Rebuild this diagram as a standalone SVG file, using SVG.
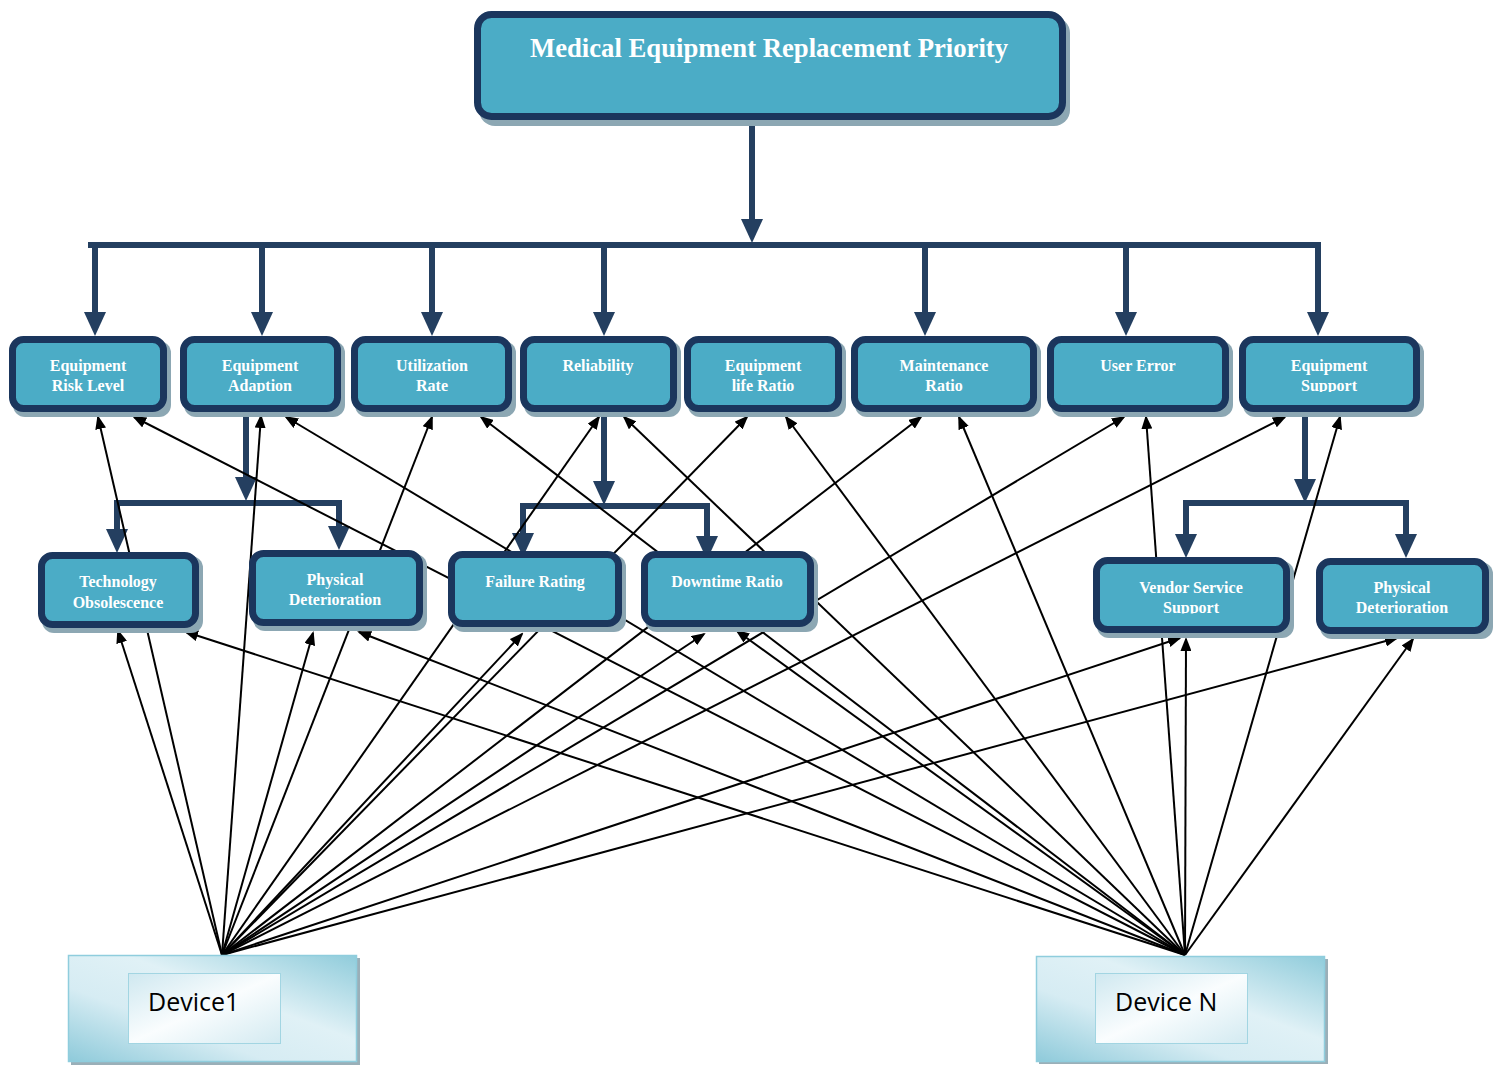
<svg xmlns="http://www.w3.org/2000/svg" width="1499" height="1065" viewBox="0 0 1499 1065">
  <style>
    .shadow { fill: #8CA7B3; }
    .box { fill: #4BACC6; stroke: #1B365D; stroke-width: 7; }
    .lbl { font-family: "Liberation Serif", "Times New Roman", serif; font-weight: bold; font-size: 16px; fill: #FFFFFF; text-anchor: middle; }
    .title { font-size: 26.7px; }
    .trunk { stroke: #243F60; stroke-width: 6; fill: none; stroke-linejoin: miter; }
    .trunk.arr { marker-end: url(#bigArrow); }
    .link { stroke: #000000; stroke-width: 2; fill: none; marker-end: url(#smallArrow); }
    .devShadow { fill: #9AAFB8; }
    .devOuter { fill: url(#devOuterGrad); stroke: #8FCDDD; stroke-width: 1.5; }
    .devInner { fill: url(#devInnerGrad); stroke: #A2D5E2; stroke-width: 1; }
    .devLbl { font-family: "Open Sans", "Liberation Sans", sans-serif; font-size: 25px; fill: #000000; }
  </style>
  <defs>
    <marker id="bigArrow" markerUnits="userSpaceOnUse" viewBox="0 0 24 22" markerWidth="24" markerHeight="22" refX="16" refY="11" orient="auto">
      <path d="M0,0 L24,11 L0,22 z" fill="#243F60"/>
    </marker>
    <marker id="smallArrow" markerUnits="userSpaceOnUse" viewBox="0 0 14 11" markerWidth="14" markerHeight="11" refX="12" refY="5.5" orient="auto">
      <path d="M0,0 L14,5.5 L0,11 z" fill="#000000"/>
    </marker>
    <linearGradient id="devOuterGrad" x1="0" y1="1" x2="1" y2="0">
      <stop offset="0" stop-color="#8ECADA"/>
      <stop offset="0.35" stop-color="#D6ECF3"/>
      <stop offset="0.6" stop-color="#E0F1F6"/>
      <stop offset="1" stop-color="#90CCDB"/>
    </linearGradient>
    <linearGradient id="devInnerGrad" x1="0" y1="0" x2="1" y2="1">
      <stop offset="0" stop-color="#CFE8F0"/>
      <stop offset="0.5" stop-color="#FAFDFE"/>
      <stop offset="1" stop-color="#D3EAF1"/>
    </linearGradient>
    <clipPath id="cutRow1"><rect x="0" y="0" width="1499" height="392"/></clipPath>
    <clipPath id="cutRow2"><rect x="0" y="0" width="1499" height="613.5"/></clipPath>
  </defs>

  <rect width="1499" height="1065" fill="#FFFFFF"/>

  <!-- hierarchy trunks (thick navy) -->
  <g id="trunks">
    <path class="trunk arr" d="M752,120 V235"/>
    <path class="trunk" d="M88,245 H1321"/>
    <path class="trunk arr" d="M95,245 V328"/>
    <path class="trunk arr" d="M262,245 V328"/>
    <path class="trunk arr" d="M432,245 V328"/>
    <path class="trunk arr" d="M604,245 V328"/>
    <path class="trunk arr" d="M925,245 V328"/>
    <path class="trunk arr" d="M1126,245 V328"/>
    <path class="trunk arr" d="M1318,245 V328"/>

    <path class="trunk arr" d="M246,412 V493"/>
    <path class="trunk arr" d="M246,503 H117 V545"/>
    <path class="trunk arr" d="M246,503 H339 V542"/>

    <path class="trunk arr" d="M604,412 V497"/>
    <path class="trunk arr" d="M604,506 H523 V549"/>
    <path class="trunk arr" d="M604,506 H707 V552"/>

    <path class="trunk arr" d="M1305,412 V495"/>
    <path class="trunk arr" d="M1305,503 H1186 V550"/>
    <path class="trunk arr" d="M1305,503 H1406 V550"/>
  </g>

  <!-- device-to-criterion links -->
  <g id="connectors">
    <!-- from Device1 -->
    <path class="link" d="M222,955 L118,631"/>
    <path class="link" d="M222,955 L98,417"/>
    <path class="link" d="M222,955 L261,416"/>
    <path class="link" d="M222,955 L313,633"/>
    <path class="link" d="M222,955 L432,417"/>
    <path class="link" d="M222,955 L522,634"/>
    <path class="link" d="M222,955 L599,417"/>
    <path class="link" d="M222,955 L747,417"/>
    <path class="link" d="M222,955 L704,634"/>
    <path class="link" d="M222,955 L921,417"/>
    <path class="link" d="M222,955 L1124,417"/>
    <path class="link" d="M222,955 L1285,417"/>
    <path class="link" d="M222,955 L1180,638"/>
    <path class="link" d="M222,955 L1397,638"/>
    <!-- from Device N -->
    <path class="link" d="M1185,955 L186,632"/>
    <path class="link" d="M1185,955 L359,632"/>
    <path class="link" d="M1185,955 L134,417"/>
    <path class="link" d="M1185,955 L286,417"/>
    <path class="link" d="M1185,955 L481,417"/>
    <path class="link" d="M1185,955 L624,417"/>
    <path class="link" d="M1185,955 L786,417"/>
    <path class="link" d="M1185,955 L959,417"/>
    <path class="link" d="M1185,955 L1146,417"/>
    <path class="link" d="M1185,955 L1340,417"/>
    <path class="link" d="M1185,955 L737,631"/>
    <path class="link" d="M1185,955 L1186,639"/>
    <path class="link" d="M1185,955 L1413,639"/>
  </g>

  <!-- goal -->
  <g id="node-goal">
    <rect class="shadow" x="479" y="17" width="591" height="109" rx="16"/>
    <rect class="box" x="477.5" y="14.5" width="585" height="102" rx="14"/>
    <text class="lbl title" x="769" y="57">Medical Equipment Replacement Priority</text>
  </g>

  <!-- criteria row -->
  <g id="node-risk-level">
    <rect class="shadow" x="13" y="341" width="158" height="76" rx="12"/>
    <rect class="box" x="12.5" y="339.5" width="151" height="69" rx="11"/>
    <text class="lbl" x="88" y="371">Equipment</text>
    <text class="lbl" x="88" y="391" clip-path="url(#cutRow1)">Risk Level</text>
  </g>
  <g id="node-adaption">
    <rect class="shadow" x="184" y="341" width="161" height="76" rx="12"/>
    <rect class="box" x="183.5" y="339.5" width="154" height="69" rx="11"/>
    <text class="lbl" x="260" y="371">Equipment</text>
    <text class="lbl" x="260" y="391" clip-path="url(#cutRow1)">Adaption</text>
  </g>
  <g id="node-utilization">
    <rect class="shadow" x="355" y="341" width="161" height="76" rx="12"/>
    <rect class="box" x="354.5" y="339.5" width="154" height="69" rx="11"/>
    <text class="lbl" x="432" y="371">Utilization</text>
    <text class="lbl" x="432" y="391" clip-path="url(#cutRow1)">Rate</text>
  </g>
  <g id="node-reliability">
    <rect class="shadow" x="524" y="341" width="157" height="76" rx="12"/>
    <rect class="box" x="523.5" y="339.5" width="150" height="69" rx="11"/>
    <text class="lbl" x="598" y="371">Reliability</text>
  </g>
  <g id="node-life-ratio">
    <rect class="shadow" x="688" y="341" width="158" height="76" rx="12"/>
    <rect class="box" x="687.5" y="339.5" width="151" height="69" rx="11"/>
    <text class="lbl" x="763" y="371">Equipment</text>
    <text class="lbl" x="763" y="391" clip-path="url(#cutRow1)">life Ratio</text>
  </g>
  <g id="node-maintenance">
    <rect class="shadow" x="855" y="341" width="186" height="76" rx="12"/>
    <rect class="box" x="854.5" y="339.5" width="179" height="69" rx="11"/>
    <text class="lbl" x="944" y="371">Maintenance</text>
    <text class="lbl" x="944" y="391" clip-path="url(#cutRow1)">Ratio</text>
  </g>
  <g id="node-user-error">
    <rect class="shadow" x="1051" y="341" width="182" height="76" rx="12"/>
    <rect class="box" x="1050.5" y="339.5" width="175" height="69" rx="11"/>
    <text class="lbl" x="1138" y="371">User Error</text>
  </g>
  <g id="node-support">
    <rect class="shadow" x="1243" y="341" width="181" height="76" rx="12"/>
    <rect class="box" x="1242.5" y="339.5" width="174" height="69" rx="11"/>
    <text class="lbl" x="1329" y="371">Equipment</text>
    <text class="lbl" x="1329" y="391" clip-path="url(#cutRow1)">Support</text>
  </g>

  <!-- sub-criteria row -->
  <g id="node-tech-obsolescence">
    <rect class="shadow" x="42" y="556" width="161" height="77" rx="12"/>
    <rect class="box" x="41.5" y="555.5" width="154" height="69" rx="11"/>
    <text class="lbl" x="118" y="587">Technology</text>
    <text class="lbl" x="118" y="608">Obsolescence</text>
  </g>
  <g id="node-physical-det-a">
    <rect class="shadow" x="253" y="554" width="174" height="77" rx="12"/>
    <rect class="box" x="252.5" y="553.5" width="167" height="69" rx="11"/>
    <text class="lbl" x="335" y="585">Physical</text>
    <text class="lbl" x="335" y="605">Deterioration</text>
  </g>
  <g id="node-failure-rating">
    <rect class="shadow" x="452" y="555" width="174" height="77" rx="12"/>
    <rect class="box" x="451.5" y="554.5" width="167" height="69" rx="11"/>
    <text class="lbl" x="535" y="587">Failure Rating</text>
  </g>
  <g id="node-downtime">
    <rect class="shadow" x="645" y="555" width="173" height="77" rx="12"/>
    <rect class="box" x="644.5" y="554.5" width="166" height="69" rx="11"/>
    <text class="lbl" x="727" y="587">Downtime Ratio</text>
  </g>
  <g id="node-vendor-support">
    <rect class="shadow" x="1097" y="561" width="197" height="77" rx="12"/>
    <rect class="box" x="1096.5" y="560.5" width="190" height="69" rx="11"/>
    <text class="lbl" x="1191" y="593">Vendor Service</text>
    <text class="lbl" x="1191" y="613" clip-path="url(#cutRow2)">Support</text>
  </g>
  <g id="node-physical-det-b">
    <rect class="shadow" x="1320" y="562" width="173" height="77" rx="12"/>
    <rect class="box" x="1319.5" y="561.5" width="166" height="69" rx="11"/>
    <text class="lbl" x="1402" y="593">Physical</text>
    <text class="lbl" x="1402" y="613">Deterioration</text>
  </g>

  <!-- devices -->
  <g id="node-device-1">
    <rect class="devShadow" x="71" y="958" width="289" height="107"/>
    <rect class="devOuter" x="68.5" y="955.5" width="288" height="106"/>
    <rect class="devInner" x="128.5" y="973.5" width="152" height="70"/>
    <text class="devLbl" x="148" y="1011">Device1</text>
  </g>
  <g id="node-device-n">
    <rect class="devShadow" x="1039" y="959" width="289" height="105"/>
    <rect class="devOuter" x="1036.5" y="956.5" width="288" height="105"/>
    <rect class="devInner" x="1095.5" y="973.5" width="152" height="70"/>
    <text class="devLbl" x="1115" y="1011">Device N</text>
  </g>
</svg>
